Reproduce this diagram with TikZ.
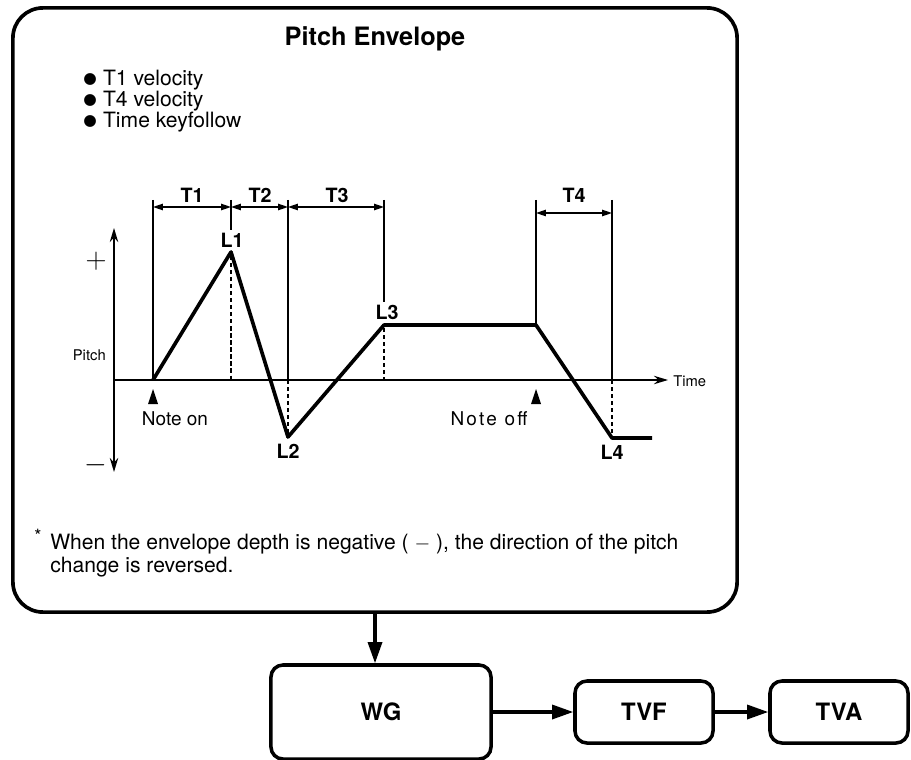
\documentclass[tikz,border=0pt]{standalone}
\usepackage{fontspec}
\setmainfont{TeX Gyre Heros}
\newfontfamily\symfont{DejaVu Sans}
\usetikzlibrary{arrows.meta, positioning}

\newcommand{\dotmark}{\raisebox{1.6pt}{\symfont\fontsize{11}{12}\selectfont ●}\hspace{0.3em}}

\begin{document}
\begin{tikzpicture}[
    x=0.025cm, y=-0.025cm,
    every node/.style={font=\fontsize{15}{18}\selectfont, inner sep=0pt},
    envbox/.style={draw, line width=2.6pt, rounded corners=0.75cm, minimum width=18.1cm, minimum height=15.1cm},
    blk/.style={draw, line width=2.5pt, rounded corners=0.3cm, minimum height=1.55cm, minimum width=3.45cm, font=\fontsize{17}{20}\selectfont\bfseries},
    arr/.style={-{Triangle[length=15pt, width=10pt]}, line width=2.2pt},
    dimarr/.style={{Triangle[length=7pt, width=4.5pt]}-{Triangle[length=7pt, width=4.5pt]}, line width=1pt},
    axisarr/.style={-{Stealth[length=10pt, width=6pt]}, line width=1.1pt},
    guide/.style={line width=1pt},
    drop/.style={line width=1.4pt, dash pattern=on 3pt off 2pt},
    curve/.style={line width=2.6pt, line join=round},
    lvl/.style={font=\fontsize{14}{16}\selectfont\bfseries},
    tiny/.style={font=\fontsize{10.5}{12}\selectfont}
]
\useasboundingbox (0,0) rectangle (911,760);

% envelope panel
\node[envbox] (env) at (375,310) {};
\node[font=\fontsize{18}{22}\selectfont\bfseries] (title) at (375,39) {Pitch Envelope};
\node[anchor=base west] (b1) at (83,86) {\dotmark T1 velocity};
\node[anchor=base west] (b2) at (83,107) {\dotmark T4 velocity};
\node[anchor=base west] (b3) at (83,128) {\dotmark Time keyfollow};

% axes
\coordinate (o) at (114,380);
\draw[axisarr] (114,380) -- (114,228);
\draw[axisarr] (114,380) -- (114,472);
\draw[axisarr] (o) -- (668,380);
\node[font=\fontsize{22}{22}\selectfont] (plus) at (96,261) {$+$};
\node[font=\fontsize{22}{22}\selectfont] (minus) at (96,465) {$-$};
\node[tiny, anchor=east] (pitch) at (106,355) {Pitch};
\node[tiny, anchor=west] (time) at (673,381) {Time};

% time marks
\draw[guide] (153,200) -- (153,380);
\draw[guide] (231,200) -- (231,230);
\draw[guide] (288,200) -- (288,380);
\draw[guide] (384,200) -- (384,302);
\draw[guide] (536,200) -- (536,325);
\draw[guide] (612,200) -- (612,380);
\draw[drop] (231,256) -- (231,380);
\draw[drop] (288,380) -- (288,434);
\draw[drop] (384,328) -- (384,380);
\draw[drop] (612,380) -- (612,435);

\draw[dimarr] (153,207) -- (231,207);
\draw[dimarr] (231,207) -- (288,207);
\draw[dimarr] (288,207) -- (384,207);
\draw[dimarr] (536,213) -- (612,213);
\node[lvl] (t1) at (192,195) {T1};
\node[lvl] (t2) at (260,195) {T2};
\node[lvl] (t3) at (337,195) {T3};
\node[lvl] (t4) at (574,195) {T4};

% envelope
\draw[curve] (153,380) -- (231,252) -- (288,437) -- (384,325) -- (536,325) -- (612,438) -- (652,438);
\node[lvl] (l1) at (232,240) {L1};
\node[lvl] (l2) at (288,451) {L2};
\node[lvl] (l3) at (387,312) {L3};
\node[lvl] (l4) at (612,452) {L4};

% note on / off
\fill (153,389) -- (148,404) -- (158,404) -- cycle;
\fill (536,389) -- (531,404) -- (541,404) -- cycle;
\node[font=\fontsize{13.5}{16}\selectfont] (non) at (175,419) {Note on};
\node[font=\fontsize{13.5}{16}\selectfont\addfontfeatures{LetterSpace=12}] (noff) at (489,419) {Note off};

% footnote
\node[anchor=base west, font=\fontsize{13}{14}\selectfont] (star) at (34,542) {*};
\node[anchor=base west] (note1) at (50,549) {When the envelope depth is negative ( $-$ ), the direction of the pitch};
\node[anchor=base west] (note2) at (50,572) {change is reversed.};

% signal chain
\node[blk, minimum width=5.5cm, minimum height=2.35cm] (wg) at (381,712) {WG};
\node[blk] (tvf) at (644,712) {TVF};
\node[blk] (tva) at (839,712) {TVA};

\draw[arr] (env.south) -- (env.south |- wg.north);
\draw[arr] (wg) -- (tvf);
\draw[arr] (tvf) -- (tva);

\end{tikzpicture}
\end{document}
